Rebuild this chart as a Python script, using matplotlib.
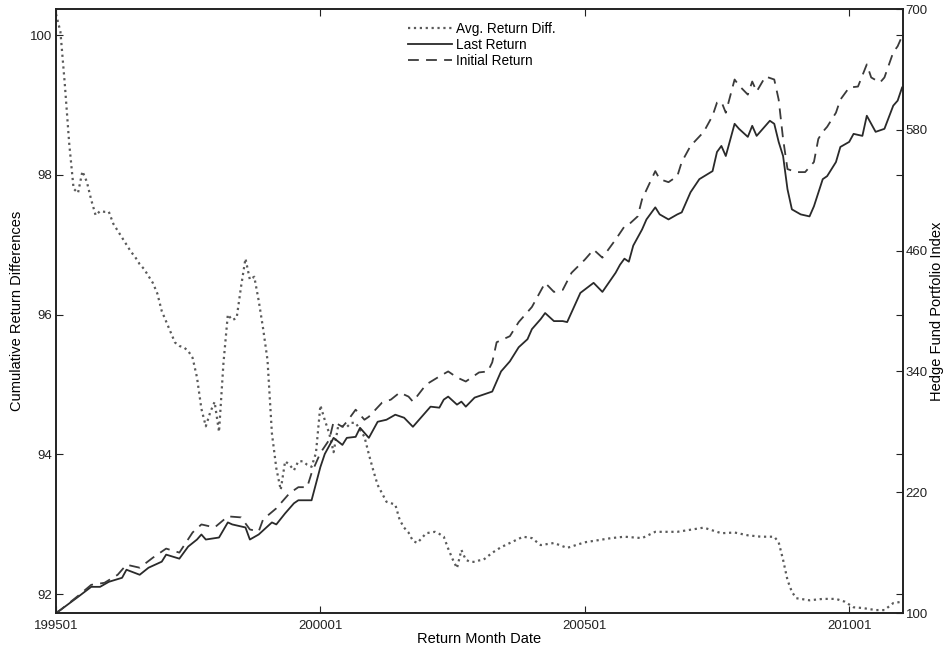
import matplotlib
matplotlib.use('Agg')
import matplotlib.pyplot as plt

plt.rcParams['font.family'] = ['Liberation Sans', 'DejaVu Sans']

# months since 1995-01 and read-off values
diff_month = [0, 1, 2, 3, 4, 5, 6, 7, 8, 9, 10, 11, 12, 13, 14, 15, 16, 17, 18, 19,
              20, 21, 22, 23, 24, 25, 26, 27, 28, 29, 30, 31, 32, 33, 34, 35, 36, 37, 38, 39,
              40, 41, 42, 43, 44, 45, 46, 47, 48, 49, 50, 51, 52, 53, 54, 55, 56, 57, 58, 59,
              60, 61, 62, 63, 64, 65, 66, 67, 68, 69, 70, 71, 72, 73, 74, 75, 76, 77, 78, 79,
              80, 81, 82, 83, 84, 85, 86, 87, 88, 89, 90, 91, 92, 93, 94, 95, 96, 97,
              99, 101, 103, 106, 108, 110, 113, 116, 120, 123, 126, 129, 133, 136, 141, 144,
              147, 151, 154, 157, 160, 163, 164, 165, 166, 167, 168, 171, 174, 177, 179, 181,
              183, 186, 188, 190, 192]
diff_value = [100.30, 100.05, 99.30, 98.45, 97.80, 97.74, 98.05, 97.90, 97.64, 97.42,
              97.48, 97.47, 97.47, 97.30, 97.20, 97.10, 97.00, 96.90, 96.82, 96.72,
              96.65, 96.55, 96.45, 96.30, 96.05, 95.90, 95.75, 95.60, 95.55, 95.53,
              95.48, 95.38, 95.10, 94.65, 94.40, 94.60, 94.75, 94.32, 95.30, 96.00,
              95.92, 95.95, 96.40, 96.80, 96.50, 96.54, 96.20, 95.80, 95.35, 94.30,
              93.80, 93.49, 93.90, 93.85, 93.77, 93.90, 93.90, 93.85, 93.82, 94.02,
              94.70, 94.49, 94.30, 94.03, 94.39, 94.40, 94.39, 94.45, 94.45, 94.35,
              94.25, 94.00, 93.77, 93.56, 93.44, 93.32, 93.30, 93.28, 93.06, 92.95,
              92.88, 92.76, 92.73, 92.80, 92.87, 92.88, 92.89, 92.86, 92.82, 92.65,
              92.50, 92.37, 92.63, 92.49, 92.46, 92.46, 92.48, 92.49,
              92.59, 92.67, 92.73, 92.82, 92.80, 92.70, 92.73, 92.66, 92.74, 92.77,
              92.80, 92.82, 92.80, 92.89, 92.89, 92.92, 92.95, 92.87, 92.88, 92.84,
              92.82, 92.82, 92.74, 92.49, 92.20, 92.03, 91.94, 91.91, 91.93, 91.93,
              91.89, 91.81, 91.80, 91.77, 91.77, 91.87, 91.89]

last_month = [0, 1, 5, 8, 10, 12, 15, 16, 19, 21, 24, 25, 28, 30, 32, 33, 34, 37, 39, 40,
              42, 43, 44, 46, 48, 49, 50, 52, 54, 55, 58, 60, 61, 63, 65, 66, 68, 69, 70, 71,
              73, 75, 77, 79, 81, 83, 85, 87, 88, 89, 91, 92, 93, 95, 97, 99, 101, 103, 105, 107,
              108, 110, 111, 113, 115, 116, 119, 122, 124, 127, 128, 129, 130, 131, 133, 134,
              136, 137, 139, 141, 142, 144, 146, 149, 150, 151, 152, 154, 155, 157, 158, 159,
              161, 162, 163, 164, 165, 166, 167, 169, 170, 171, 172, 174, 175, 177, 178, 180,
              181, 183, 184, 186, 188, 190, 191, 192]
last_value = [100, 103, 116, 126, 126, 131, 135, 143, 138, 145, 151, 158, 154, 166, 173, 178,
              173, 175, 190, 188, 186, 185, 173, 178, 186, 190, 188, 199, 209, 212, 212, 245,
              258, 274, 267, 274, 275, 284, 279, 274, 290, 292, 297, 294, 285, 295, 305, 304,
              312, 315, 307, 310, 305, 314, 317, 320, 340, 350, 364, 372, 382, 392, 398, 390,
              390, 389, 418, 428, 419, 438, 446, 452, 449, 465, 481, 491, 503, 496, 491, 496,
              498, 518, 531, 539, 558, 564, 554, 586, 581, 573, 584, 574, 584, 589, 586, 568,
              554, 521, 501, 496, 495, 494, 504, 531, 534, 548, 563, 568, 576, 574, 594, 578,
              581, 604, 609, 622]

init_month = [0, 1, 5, 8, 11, 14, 16, 19, 22, 25, 28, 31, 33, 36, 39, 42, 44, 46, 47, 50,
              53, 55, 57, 58, 60, 62, 63, 65, 66, 68, 70, 71, 74, 76, 78, 80, 81, 84, 87, 89,
              91, 93, 96, 98, 99, 100, 103, 105, 108, 111, 113, 115, 117, 120, 122, 124, 127,
              129, 130, 132, 133, 136, 137, 139, 141, 142, 144, 147, 149, 150, 151, 152, 154,
              155, 157, 158, 159, 161, 163, 164, 165, 166, 168, 170, 172, 173, 174, 175, 177,
              178, 180, 182, 184, 185, 187, 188, 190, 191, 192]
init_value = [100, 103, 117, 128, 130, 138, 148, 145, 155, 164, 160, 180, 188, 185, 196, 195,
              183, 181, 193, 204, 219, 225, 225, 239, 259, 272, 290, 285, 290, 302, 292, 295,
              309, 312, 319, 315, 310, 327, 335, 340, 334, 330, 339, 340, 349, 369, 375, 389,
              404, 428, 419, 421, 438, 451, 461, 453, 471, 484, 486, 494, 511, 539, 531, 528,
              534, 548, 564, 578, 594, 607, 608, 597, 630, 624, 615, 628, 618, 633, 630, 610,
              571, 541, 538, 538, 548, 571, 578, 583, 597, 610, 622, 623, 645, 632, 627, 632,
              657, 663, 673]

xtick_pos = [0, 60, 120, 180]
xtick_labels = ['199501', '200001', '200501', '201001']
left_ticks = [92, 94, 96, 98, 100]
right_ticks = [100, 220, 340, 460, 580, 700]

fig = plt.figure(figsize=(9.44, 6.5), dpi=100)
ax = fig.add_axes([0.0593, 0.0569, 0.8972, 0.9292])
ax2 = ax.twinx()

l1, = ax.plot(diff_month, diff_value, linestyle=':', color='#5a5a5a', lw=1.6,
              label='Avg. Return Diff.')
l2, = ax2.plot(last_month, last_value, linestyle='-', color='#2a2a2a', lw=1.3,
               label='Last Return')
l3, = ax2.plot(init_month, init_value, linestyle='--', color='#3a3a3a', lw=1.3,
               dashes=(6, 4), label='Initial Return')

ax.set_xlim(0, 192.2)
ax.set_ylim(91.728, 100.372)
ax2.set_ylim(100, 700)

ax.set_xticks(xtick_pos)
ax.set_xticklabels(xtick_labels)
ax.set_yticks(left_ticks)
ax.set_yticklabels([str(t) for t in left_ticks])
ax2.set_yticks(right_ticks)

ax.tick_params(axis='both', direction='in', length=5, width=0.8, labelsize=9.5,
               top=True, right=True, colors='#222222')
ax.tick_params(axis='x', pad=5)
ax.tick_params(axis='y', pad=3)
ax2.tick_params(axis='y', direction='in', length=5, width=0.8, labelsize=9.5, pad=2,
                colors='#222222')

for a in (ax, ax2):
    for s in a.spines.values():
        s.set_linewidth(1.2)
        s.set_color('#222222')

ax.set_xlabel('Return Month Date', fontsize=10.5)
ax.set_ylabel('Cumulative Return Differences', fontsize=10.5)
ax2.set_ylabel('Hedge Fund Portfolio Index', fontsize=10.5)
ax.xaxis.set_label_coords(0.5, -0.031)
ax.yaxis.set_label_coords(-0.038, 0.5)
ax2.yaxis.set_label_coords(1.032, 0.5)

ax.legend(handles=[l1, l2, l3], loc='upper center', bbox_to_anchor=(0.503, 0.992),
          frameon=False, fontsize=9.8, handlelength=3.2, handletextpad=0.3,
          labelspacing=0.15, borderaxespad=0.2)

fig.savefig('out.png', dpi=100)
